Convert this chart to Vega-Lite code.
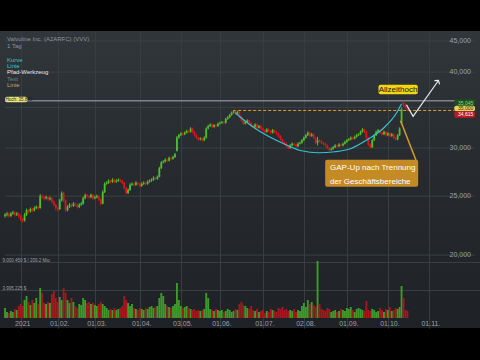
{
"$schema":"https://vega.github.io/schema/vega-lite/v6.json",
"width":480,"height":297,
"autosize":{"type":"none"},
"padding":{"top":31,"bottom":32,"left":0,"right":0},
"background":"#000000",
"config":{"view":{"stroke":null,"fill":{"gradient":"linear","x1":0,"y1":0,"x2":0,"y2":1,"stops":[{"offset":0,"color":"#30363a"},{"offset":0.45,"color":"#272b2f"},{"offset":1,"color":"#1e2125"}]}},"font":"Liberation Sans","text":{"font":"Liberation Sans"}},
"datasets":{
"candles":[
{"i":-8,"o":23.2,"h":23.45,"l":23.05,"c":23.3,"v":1.0},
{"i":-7,"o":23.3,"h":23.55,"l":23.15,"c":23.4,"v":0.6},
{"i":-6,"o":23.4,"h":23.5,"l":23.05,"c":23.2,"v":0.5},
{"i":-5,"o":23.2,"h":23.55,"l":23.1,"c":23.4,"v":0.7},
{"i":-4,"o":23.4,"h":23.65,"l":23.3,"c":23.5,"v":0.6},
{"i":-3,"o":23.5,"h":23.6,"l":23.15,"c":23.3,"v":0.9},
{"i":-2,"o":23.3,"h":23.55,"l":23.2,"c":23.4,"v":0.8},
{"i":-1,"o":23.4,"h":23.5,"l":23.05,"c":23.2,"v":1.2},
{"i":0,"o":23.2,"h":23.3,"l":22.75,"c":22.9,"v":1.4},
{"i":1,"o":22.9,"h":23.0,"l":22.6,"c":22.8,"v":1.2},
{"i":2,"o":22.8,"h":23.45,"l":22.7,"c":23.3,"v":1.8},
{"i":3,"o":23.3,"h":23.85,"l":23.2,"c":23.7,"v":2.2},
{"i":4,"o":23.7,"h":23.8,"l":23.45,"c":23.6,"v":1.6},
{"i":5,"o":23.6,"h":23.95,"l":23.5,"c":23.8,"v":1.3},
{"i":6,"o":23.8,"h":23.9,"l":23.55,"c":23.7,"v":1.8},
{"i":7,"o":23.7,"h":24.05,"l":23.6,"c":23.9,"v":1.5},
{"i":8,"o":23.9,"h":24.15,"l":23.8,"c":24.0,"v":2.0},
{"i":9,"o":24.0,"h":24.1,"l":23.75,"c":23.9,"v":1.4},
{"i":10,"o":23.9,"h":25.2,"l":23.85,"c":25.0,"v":3.0},
{"i":11,"o":25.0,"h":25.15,"l":24.75,"c":24.9,"v":2.5},
{"i":12,"o":24.9,"h":25.0,"l":24.6,"c":24.8,"v":1.5},
{"i":13,"o":24.8,"h":25.05,"l":24.7,"c":24.9,"v":1.4},
{"i":14,"o":24.9,"h":25.0,"l":24.55,"c":24.7,"v":1.6},
{"i":15,"o":24.7,"h":24.95,"l":24.6,"c":24.8,"v":1.5},
{"i":16,"o":24.8,"h":24.9,"l":24.35,"c":24.5,"v":2.4},
{"i":17,"o":24.5,"h":24.6,"l":24.05,"c":24.2,"v":2.7},
{"i":18,"o":24.2,"h":24.3,"l":23.7,"c":23.9,"v":2.0},
{"i":19,"o":23.9,"h":24.0,"l":23.6,"c":23.8,"v":1.6},
{"i":20,"o":23.8,"h":24.75,"l":23.75,"c":24.6,"v":2.1},
{"i":21,"o":24.6,"h":25.45,"l":24.5,"c":25.3,"v":1.8},
{"i":22,"o":25.3,"h":25.4,"l":24.45,"c":24.6,"v":3.0},
{"i":23,"o":24.6,"h":24.7,"l":23.55,"c":23.7,"v":2.5},
{"i":24,"o":23.7,"h":24.15,"l":23.6,"c":24.0,"v":1.8},
{"i":25,"o":24.0,"h":24.35,"l":23.9,"c":24.2,"v":1.5},
{"i":26,"o":24.2,"h":24.3,"l":23.95,"c":24.1,"v":2.0},
{"i":27,"o":24.1,"h":24.45,"l":24.0,"c":24.3,"v":1.6},
{"i":28,"o":24.3,"h":24.4,"l":24.05,"c":24.2,"v":1.2},
{"i":29,"o":24.2,"h":24.3,"l":23.85,"c":24.0,"v":1.0},
{"i":30,"o":24.0,"h":24.35,"l":23.9,"c":24.2,"v":1.4},
{"i":31,"o":24.2,"h":24.45,"l":24.1,"c":24.3,"v":1.3},
{"i":32,"o":24.3,"h":24.95,"l":24.2,"c":24.8,"v":2.0},
{"i":33,"o":24.8,"h":25.25,"l":24.7,"c":25.1,"v":1.8},
{"i":34,"o":25.1,"h":25.2,"l":24.85,"c":25.0,"v":1.5},
{"i":35,"o":25.0,"h":25.1,"l":24.75,"c":24.9,"v":1.6},
{"i":36,"o":24.9,"h":25.25,"l":24.8,"c":25.1,"v":1.4},
{"i":37,"o":25.1,"h":25.2,"l":24.65,"c":24.8,"v":1.5},
{"i":38,"o":24.8,"h":25.05,"l":24.7,"c":24.9,"v":1.3},
{"i":39,"o":24.9,"h":25.15,"l":24.8,"c":25.0,"v":1.2},
{"i":40,"o":25.0,"h":25.1,"l":24.55,"c":24.7,"v":1.4},
{"i":41,"o":24.7,"h":24.8,"l":24.15,"c":24.3,"v":1.6},
{"i":42,"o":24.3,"h":25.55,"l":24.25,"c":25.4,"v":1.4},
{"i":43,"o":25.4,"h":26.35,"l":25.3,"c":26.2,"v":1.2},
{"i":44,"o":26.2,"h":26.45,"l":26.1,"c":26.3,"v":1.0},
{"i":45,"o":26.3,"h":26.65,"l":26.2,"c":26.5,"v":0.8},
{"i":46,"o":26.5,"h":26.6,"l":26.25,"c":26.4,"v":0.9},
{"i":47,"o":26.4,"h":26.75,"l":26.3,"c":26.6,"v":0.8},
{"i":48,"o":26.6,"h":26.7,"l":26.25,"c":26.4,"v":1.0},
{"i":49,"o":26.4,"h":26.65,"l":26.3,"c":26.5,"v":0.8},
{"i":50,"o":26.5,"h":26.75,"l":26.4,"c":26.6,"v":0.9},
{"i":51,"o":26.6,"h":26.7,"l":26.35,"c":26.5,"v":1.0},
{"i":52,"o":26.5,"h":26.6,"l":26.15,"c":26.3,"v":1.2},
{"i":53,"o":26.3,"h":26.4,"l":25.65,"c":25.8,"v":2.2},
{"i":54,"o":25.8,"h":25.9,"l":25.15,"c":25.3,"v":1.8},
{"i":55,"o":25.3,"h":25.75,"l":25.2,"c":25.6,"v":1.5},
{"i":56,"o":25.6,"h":26.25,"l":25.5,"c":26.1,"v":1.2},
{"i":57,"o":26.1,"h":26.35,"l":26.0,"c":26.2,"v":1.4},
{"i":58,"o":26.2,"h":26.3,"l":25.95,"c":26.1,"v":1.0},
{"i":59,"o":26.1,"h":26.45,"l":26.0,"c":26.3,"v":0.9},
{"i":60,"o":26.3,"h":26.4,"l":26.05,"c":26.2,"v":0.8},
{"i":61,"o":26.2,"h":26.3,"l":25.85,"c":26.0,"v":1.0},
{"i":62,"o":26.0,"h":26.35,"l":25.9,"c":26.2,"v":0.9},
{"i":63,"o":26.2,"h":26.45,"l":26.1,"c":26.3,"v":0.8},
{"i":64,"o":26.3,"h":26.4,"l":26.05,"c":26.2,"v":1.0},
{"i":65,"o":26.2,"h":26.55,"l":26.1,"c":26.4,"v":0.9},
{"i":66,"o":26.4,"h":26.65,"l":26.3,"c":26.5,"v":1.1},
{"i":67,"o":26.5,"h":26.75,"l":26.4,"c":26.6,"v":1.2},
{"i":68,"o":26.6,"h":26.95,"l":26.5,"c":26.8,"v":1.0},
{"i":69,"o":26.8,"h":26.9,"l":26.55,"c":26.7,"v":1.1},
{"i":70,"o":26.7,"h":27.05,"l":26.6,"c":26.9,"v":1.2},
{"i":71,"o":26.9,"h":27.95,"l":26.85,"c":27.8,"v":2.0},
{"i":72,"o":27.8,"h":28.55,"l":27.7,"c":28.4,"v":2.5},
{"i":73,"o":28.4,"h":28.65,"l":28.3,"c":28.5,"v":2.2},
{"i":74,"o":28.5,"h":28.85,"l":28.4,"c":28.7,"v":1.4},
{"i":75,"o":28.7,"h":28.8,"l":28.45,"c":28.6,"v":1.2},
{"i":76,"o":28.6,"h":29.05,"l":28.5,"c":28.9,"v":1.1},
{"i":77,"o":28.9,"h":29.0,"l":28.65,"c":28.8,"v":1.0},
{"i":78,"o":28.8,"h":29.15,"l":28.7,"c":29.0,"v":1.2},
{"i":79,"o":29.0,"h":29.45,"l":28.9,"c":29.3,"v":1.4},
{"i":80,"o":29.7,"h":31.4,"l":29.6,"c":31.2,"v":3.5},
{"i":81,"o":31.2,"h":31.65,"l":31.1,"c":31.5,"v":1.8},
{"i":82,"o":31.5,"h":31.85,"l":31.4,"c":31.7,"v":1.2},
{"i":83,"o":31.7,"h":31.8,"l":31.45,"c":31.6,"v":1.0},
{"i":84,"o":31.6,"h":31.95,"l":31.5,"c":31.8,"v":1.1},
{"i":85,"o":31.8,"h":32.15,"l":31.7,"c":32.0,"v":1.2},
{"i":86,"o":32.0,"h":32.1,"l":31.75,"c":31.9,"v":1.0},
{"i":87,"o":31.9,"h":32.45,"l":31.8,"c":32.3,"v":0.9},
{"i":88,"o":32.3,"h":32.4,"l":31.75,"c":31.9,"v":0.8},
{"i":89,"o":31.9,"h":32.0,"l":31.35,"c":31.5,"v":0.9},
{"i":90,"o":31.5,"h":31.6,"l":31.05,"c":31.2,"v":0.7},
{"i":91,"o":31.2,"h":31.3,"l":30.85,"c":31.0,"v":0.8},
{"i":92,"o":31.0,"h":31.25,"l":30.9,"c":31.1,"v":0.7},
{"i":93,"o":31.1,"h":31.2,"l":30.75,"c":30.9,"v":0.8},
{"i":94,"o":30.9,"h":31.35,"l":30.8,"c":31.2,"v":0.9},
{"i":95,"o":31.2,"h":32.45,"l":31.1,"c":32.3,"v":2.5},
{"i":96,"o":32.3,"h":32.75,"l":32.2,"c":32.6,"v":2.0},
{"i":97,"o":32.6,"h":32.95,"l":32.5,"c":32.8,"v":0.9},
{"i":98,"o":32.8,"h":32.9,"l":32.35,"c":32.5,"v":0.8},
{"i":99,"o":32.5,"h":32.85,"l":32.4,"c":32.7,"v":0.7},
{"i":100,"o":32.7,"h":32.8,"l":32.45,"c":32.6,"v":0.9},
{"i":101,"o":32.6,"h":33.05,"l":32.5,"c":32.9,"v":0.8},
{"i":102,"o":32.9,"h":33.15,"l":32.8,"c":33.0,"v":0.7},
{"i":103,"o":33.0,"h":33.25,"l":32.9,"c":33.1,"v":0.8},
{"i":104,"o":33.1,"h":33.2,"l":32.85,"c":33.0,"v":0.6},
{"i":105,"o":33.0,"h":33.65,"l":32.9,"c":33.5,"v":0.7},
{"i":106,"o":33.5,"h":33.85,"l":33.4,"c":33.7,"v":0.9},
{"i":107,"o":33.7,"h":34.15,"l":33.6,"c":34.0,"v":0.8},
{"i":108,"o":34.0,"h":34.45,"l":33.9,"c":34.3,"v":0.6},
{"i":109,"o":34.3,"h":34.6,"l":34.2,"c":34.5,"v":0.7},
{"i":110,"o":34.5,"h":34.6,"l":34.05,"c":34.2,"v":0.9},
{"i":111,"o":34.2,"h":34.55,"l":34.1,"c":34.4,"v":0.8},
{"i":112,"o":34.4,"h":34.5,"l":33.65,"c":33.8,"v":1.4},
{"i":113,"o":33.8,"h":33.9,"l":33.15,"c":33.3,"v":1.6},
{"i":114,"o":33.3,"h":33.4,"l":32.75,"c":32.9,"v":1.3},
{"i":115,"o":32.9,"h":33.25,"l":32.8,"c":33.1,"v":1.2},
{"i":116,"o":33.1,"h":33.45,"l":33.0,"c":33.3,"v":1.0},
{"i":117,"o":33.3,"h":33.4,"l":32.85,"c":33.0,"v":0.9},
{"i":118,"o":33.0,"h":33.1,"l":32.55,"c":32.7,"v":1.2},
{"i":119,"o":32.7,"h":32.8,"l":32.35,"c":32.5,"v":0.8},
{"i":120,"o":32.5,"h":32.95,"l":32.4,"c":32.8,"v":0.7},
{"i":121,"o":32.8,"h":32.9,"l":32.25,"c":32.4,"v":0.9},
{"i":122,"o":32.4,"h":32.75,"l":32.3,"c":32.6,"v":0.6},
{"i":123,"o":32.6,"h":32.7,"l":32.15,"c":32.3,"v":0.7},
{"i":124,"o":32.3,"h":32.4,"l":31.95,"c":32.1,"v":0.8},
{"i":125,"o":32.1,"h":32.2,"l":31.75,"c":31.9,"v":0.5},
{"i":126,"o":31.9,"h":32.35,"l":31.8,"c":32.2,"v":0.7},
{"i":127,"o":32.2,"h":32.3,"l":31.85,"c":32.0,"v":0.6},
{"i":128,"o":32.0,"h":32.1,"l":31.65,"c":31.8,"v":0.9},
{"i":129,"o":31.8,"h":32.25,"l":31.7,"c":32.1,"v":0.8},
{"i":130,"o":32.1,"h":32.2,"l":31.75,"c":31.9,"v":0.7},
{"i":131,"o":31.9,"h":32.0,"l":31.55,"c":31.7,"v":0.6},
{"i":132,"o":31.7,"h":31.8,"l":31.25,"c":31.4,"v":1.0},
{"i":133,"o":31.4,"h":31.5,"l":30.85,"c":31.0,"v":0.9},
{"i":134,"o":31.0,"h":31.1,"l":30.55,"c":30.7,"v":1.1},
{"i":135,"o":30.7,"h":30.8,"l":30.35,"c":30.5,"v":0.8},
{"i":136,"o":30.5,"h":30.6,"l":30.05,"c":30.2,"v":0.9},
{"i":137,"o":30.2,"h":30.3,"l":29.85,"c":30.0,"v":0.7},
{"i":138,"o":30.0,"h":30.45,"l":29.9,"c":30.3,"v":0.8},
{"i":139,"o":30.3,"h":30.65,"l":30.2,"c":30.5,"v":0.7},
{"i":140,"o":30.5,"h":30.6,"l":30.25,"c":30.4,"v":0.9},
{"i":141,"o":30.4,"h":30.5,"l":30.05,"c":30.2,"v":0.6},
{"i":142,"o":30.2,"h":30.65,"l":30.1,"c":30.5,"v":0.8},
{"i":143,"o":30.5,"h":30.75,"l":30.4,"c":30.6,"v":0.7},
{"i":144,"o":30.6,"h":31.05,"l":30.5,"c":30.9,"v":1.2},
{"i":145,"o":30.9,"h":31.35,"l":30.8,"c":31.2,"v":1.5},
{"i":146,"o":31.2,"h":31.65,"l":31.1,"c":31.5,"v":1.1},
{"i":147,"o":31.5,"h":31.95,"l":31.4,"c":31.8,"v":1.8},
{"i":148,"o":31.8,"h":31.9,"l":31.25,"c":31.4,"v":1.4},
{"i":149,"o":31.4,"h":31.75,"l":31.3,"c":31.6,"v":1.6},
{"i":150,"o":31.6,"h":31.7,"l":31.05,"c":31.2,"v":1.3},
{"i":151,"o":31.2,"h":31.3,"l":30.45,"c":30.6,"v":1.1},
{"i":152,"o":30.6,"h":31.3,"l":30.3,"c":30.9,"v":5.7},
{"i":153,"o":30.9,"h":31.0,"l":30.65,"c":30.8,"v":1.4},
{"i":154,"o":30.8,"h":30.9,"l":30.45,"c":30.6,"v":0.9},
{"i":155,"o":30.6,"h":30.7,"l":30.35,"c":30.5,"v":0.8},
{"i":156,"o":30.5,"h":30.6,"l":30.15,"c":30.3,"v":0.7},
{"i":157,"o":30.3,"h":30.4,"l":29.85,"c":30.0,"v":1.0},
{"i":158,"o":30.0,"h":30.1,"l":29.65,"c":29.8,"v":0.9},
{"i":159,"o":29.8,"h":30.05,"l":29.7,"c":29.9,"v":0.6},
{"i":160,"o":29.9,"h":30.25,"l":29.8,"c":30.1,"v":0.7},
{"i":161,"o":30.1,"h":30.45,"l":30.0,"c":30.3,"v":0.8},
{"i":162,"o":30.3,"h":30.4,"l":30.05,"c":30.2,"v":0.6},
{"i":163,"o":30.2,"h":30.55,"l":30.1,"c":30.4,"v":0.7},
{"i":164,"o":30.4,"h":30.5,"l":30.15,"c":30.3,"v":0.9},
{"i":165,"o":30.3,"h":30.65,"l":30.2,"c":30.5,"v":0.8},
{"i":166,"o":30.5,"h":30.85,"l":30.4,"c":30.7,"v":0.7},
{"i":167,"o":30.7,"h":31.05,"l":30.6,"c":30.9,"v":1.0},
{"i":168,"o":30.9,"h":31.15,"l":30.8,"c":31.0,"v":0.9},
{"i":169,"o":31.0,"h":31.35,"l":30.9,"c":31.2,"v":1.1},
{"i":170,"o":31.2,"h":31.3,"l":30.95,"c":31.1,"v":0.8},
{"i":171,"o":31.1,"h":31.45,"l":31.0,"c":31.3,"v":0.6},
{"i":172,"o":31.3,"h":31.65,"l":31.2,"c":31.5,"v":0.9},
{"i":173,"o":31.5,"h":31.75,"l":31.4,"c":31.6,"v":1.0},
{"i":174,"o":31.6,"h":32.05,"l":31.5,"c":31.9,"v":0.9},
{"i":175,"o":31.9,"h":32.35,"l":31.8,"c":32.2,"v":0.8},
{"i":176,"o":32.2,"h":32.3,"l":31.75,"c":31.9,"v":0.7},
{"i":177,"o":31.9,"h":32.0,"l":31.05,"c":31.2,"v":1.7},
{"i":178,"o":31.2,"h":31.3,"l":30.25,"c":30.4,"v":0.8},
{"i":179,"o":30.4,"h":30.5,"l":29.95,"c":30.1,"v":0.7},
{"i":180,"o":30.1,"h":31.05,"l":30.0,"c":30.9,"v":0.9},
{"i":181,"o":30.9,"h":31.65,"l":30.8,"c":31.5,"v":0.8},
{"i":182,"o":31.5,"h":32.05,"l":31.4,"c":31.9,"v":0.6},
{"i":183,"o":31.9,"h":32.25,"l":31.8,"c":32.1,"v":0.7},
{"i":184,"o":32.1,"h":32.2,"l":31.65,"c":31.8,"v":1.0},
{"i":185,"o":31.8,"h":31.9,"l":31.45,"c":31.6,"v":0.8},
{"i":186,"o":31.6,"h":32.05,"l":31.5,"c":31.9,"v":0.6},
{"i":187,"o":31.9,"h":32.0,"l":31.35,"c":31.5,"v":0.9},
{"i":188,"o":31.5,"h":31.85,"l":31.4,"c":31.7,"v":0.8},
{"i":189,"o":31.7,"h":31.8,"l":31.25,"c":31.4,"v":1.1},
{"i":190,"o":31.4,"h":31.75,"l":31.3,"c":31.6,"v":0.7},
{"i":191,"o":31.6,"h":31.7,"l":31.05,"c":31.2,"v":0.8},
{"i":192,"o":31.2,"h":31.3,"l":30.85,"c":31.0,"v":1.0},
{"i":193,"o":31.0,"h":31.65,"l":30.9,"c":31.5,"v":0.9},
{"i":194,"o":31.5,"h":32.45,"l":31.4,"c":32.3,"v":1.1},
{"i":195,"o":32.9,"h":34.95,"l":32.8,"c":34.8,"v":3.2},
{"i":196,"o":35.7,"h":35.9,"l":35.1,"c":35.3,"v":2.0},
{"i":197,"o":35.3,"h":35.5,"l":34.85,"c":35.0,"v":0.8},
{"i":198,"o":35.1,"h":35.2,"l":34.5,"c":34.6,"v":0.7}
],
"pricegrid":[
{"i":-8.02,"i2":232.6,"p":20,"lab":"20,000"},
{"i":-8.02,"i2":232.6,"p":25,"lab":"25,000"},
{"i":-8.02,"i2":232.6,"p":30,"lab":"30,000"},
{"i":-8.02,"i2":232.6,"p":35,"lab":"35,000"},
{"i":-8.02,"i2":232.6,"p":40,"lab":"40,000"},
{"i":-8.02,"i2":232.6,"p":45,"lab":"45,000"}
],
"curve":[
{"i":109.8,"p":34.29},{"i":118.8,"p":32.52},{"i":127.3,"p":31.31},{"i":135.8,"p":30.38},{"i":143.9,"p":29.69},{"i":152.4,"p":29.47},{"i":160.9,"p":29.58},{"i":168.9,"p":29.92},{"i":177.4,"p":30.96},{"i":186,"p":32.4},{"i":192.5,"p":34.29},{"i":195,"p":35.48}
],
"path":[{"i":197.5,"p":35.35},{"i":200.9,"p":33.82},{"i":213.9,"p":38.75}],
"tip":[{"i":213.9,"p":38.75}],
"pointer":[{"i":194.5,"p":33.27},{"i":202.5,"p":28.59}],
"levels":[{"i":-8.02,"i2":232.6,"p":35.89,"kind":"high"},{"i":108.8,"i2":222,"p":34.59,"kind":"prev"}],
"boxes":[
{"i":155.9,"i2":203.5,"p":28.7,"p2":25.91,"kind":"callout"},
{"i":183.2,"i2":203.3,"p":38.13,"p2":36.78,"kind":"ath"},
{"i":-8.02,"i2":3.5,"p":36.43,"p2":35.68,"kind":"hoch"},
{"i":222,"i2":232.6,"p":36.09,"p2":35.21,"kind":"bid"},
{"i":222,"i2":232.6,"p":35.21,"p2":34.49,"kind":"mid"},
{"i":222,"i2":232.6,"p":34.49,"p2":33.65,"kind":"ask"}
],
"notes":[
{"i":-7,"p":45.39,"t":"Valvoline Inc. (A2ARFC) (VVV)","kind":"info"},
{"i":-7,"p":44.2,"t":"1 Tag","kind":"info"},
{"i":-7,"p":41.92,"t":"Kurve","kind":"cyan"},
{"i":-7,"p":40.97,"t":"Linie","kind":"cyan"},
{"i":-7,"p":39.95,"t":"Pfad-Werkzeug","kind":"white"},
{"i":-7,"p":39.01,"t":"Text","kind":"gray"},
{"i":-7,"p":38.13,"t":"Linie","kind":"orange"}
],
"callout":[
{"i":158.4,"p":27.84,"t":"GAP-Up nach Trennung"},
{"i":158.4,"p":26.4,"t":"der Geschäftsbereiche"}
],
"tags":[
{"i":193.2,"p":37.41,"t":"Allzeithoch","kind":"ath"},
{"i":-7.8,"p":36.05,"t":"Hoch: 35,895","kind":"hoch"},
{"i":231.7,"p":35.64,"t":"35,045","kind":"bid"},
{"i":231.7,"p":34.85,"t":"35,000","kind":"mid"},
{"i":231.7,"p":34.07,"t":"34,615","kind":"ask"}
]
},
"encoding":{"x":{"field":"i","type":"quantitative","scale":{"domain":[-8.02,232.6],"nice":false,"zero":false},
"axis":{"values":[0,19,38,61,82,102,124,145,167,188,209],"labelExpr":"['2021','01.02.','01.03.','01.04.','03.05.','01.06.','01.07.','02.08.','01.09.','01.10.','01.11.'][indexof([0,19,38,61,82,102,124,145,167,188,209], datum.value)]","title":null,"grid":true,"gridColor":"#383d42","domain":false,"ticks":false,"tickSize":0,"labelColor":"#9aa0a6","labelFontSize":7,"labelPadding":-5,"labelBaseline":"middle","labelOffset":1.5,"labelFlush":false}}},
"layer":[
 {"data":{"name":"pricegrid"},
  "mark":{"type":"rule","color":"#3b4045","strokeWidth":1},
  "encoding":{"x2":{"field":"i2"},"y":{"field":"p","type":"quantitative","scale":{"type":"log","domain":[15.172,46.74],"nice":false},"axis":null}}},
 {"data":{"name":"candles"},
  "mark":{"type":"bar","size":1.9},
  "encoding":{
   "y":{"field":"v","type":"quantitative","scale":{"domain":[-1.0,28.7],"nice":false,"zero":false},
    "axis":{"orient":"left","values":[2.8,5.6],"labelExpr":"datum.value > 4 ? '9.000.450 $ / 209.2 Mio' : '3.995.225 $'","title":null,"grid":true,"gridColor":"#3a3f44","domain":false,"ticks":false,"tickSize":0,"labelPadding":-2,"labelAlign":"left","labelBaseline":"bottom","labelColor":"#9aa0a6","labelFontSize":4.5}},
   "y2":{"datum":0},
   "color":{"condition":{"test":"datum.c >= datum.o","value":"#3f9a2a"},"value":"#a5181d"}
  }},
 {"data":{"name":"pricegrid"},"transform":[{"filter":"datum.p != 35"}],
  "mark":{"type":"text","align":"right","baseline":"middle","fontSize":7,"color":"#9aa0a6","dx":-4},
  "encoding":{"x":{"field":"i2","type":"quantitative"},"y":{"field":"p","type":"quantitative","scale":{"type":"log","domain":[15.172,46.74],"nice":false},"axis":null},"text":{"field":"lab"}}},
 {"data":{"name":"levels"},"transform":[{"filter":"datum.kind == 'high'"}],
  "mark":{"type":"rule","color":"#7d8388","strokeWidth":1.5},
  "encoding":{"x2":{"field":"i2"},"y":{"field":"p","type":"quantitative","scale":{"type":"log","domain":[15.172,46.74],"nice":false},"axis":null}}},
 {"data":{"name":"levels"},"transform":[{"filter":"datum.kind == 'prev'"}],
  "mark":{"type":"rule","color":"#e59a2e","strokeWidth":1,"strokeDash":[3,2]},
  "encoding":{"x2":{"field":"i2"},"y":{"field":"p","type":"quantitative","scale":{"type":"log","domain":[15.172,46.74],"nice":false},"axis":null}}},
 {"data":{"name":"candles"},
  "mark":{"type":"rule","strokeWidth":1},
  "encoding":{"y":{"field":"l","type":"quantitative","scale":{"type":"log","domain":[15.172,46.74],"nice":false},"axis":null},"y2":{"field":"h"},
   "color":{"condition":{"test":"datum.c >= datum.o","value":"#4cc02c"},"value":"#d8161e"}}},
 {"data":{"name":"candles"},
  "mark":{"type":"bar","size":1.8},
  "encoding":{"y":{"field":"o","type":"quantitative","scale":{"type":"log","domain":[15.172,46.74],"nice":false},"axis":null},"y2":{"field":"c"},
   "color":{"condition":{"test":"datum.c >= datum.o","value":"#4cc02c"},"value":"#d8161e"}}},
 {"data":{"name":"curve"},
  "mark":{"type":"line","color":"#2ec6d2","strokeWidth":1.2,"interpolate":"monotone"},
  "encoding":{"y":{"field":"p","type":"quantitative","scale":{"type":"log","domain":[15.172,46.74],"nice":false},"axis":null}}},
 {"data":{"name":"path"},
  "mark":{"type":"line","color":"#e8e8e8","strokeWidth":1.2},
  "encoding":{"y":{"field":"p","type":"quantitative","scale":{"type":"log","domain":[15.172,46.74],"nice":false},"axis":null}}},
 {"data":{"name":"tip"},
  "mark":{"type":"point","shape":"M-1,0.8L0,0L1,0.8","filled":false,"stroke":"#e8e8e8","strokeWidth":1.2,"size":40,"angle":36,"opacity":1},
  "encoding":{"y":{"field":"p","type":"quantitative","scale":{"type":"log","domain":[15.172,46.74],"nice":false},"axis":null}}},
 {"data":{"name":"pointer"},
  "mark":{"type":"line","color":"#d89a2a","strokeWidth":1.5},
  "encoding":{"y":{"field":"p","type":"quantitative","scale":{"type":"log","domain":[15.172,46.74],"nice":false},"axis":null}}},
 {"data":{"name":"boxes"},
  "mark":{"type":"rect","cornerRadius":2},
  "encoding":{"x2":{"field":"i2"},"y":{"field":"p","type":"quantitative","scale":{"type":"log","domain":[15.172,46.74],"nice":false},"axis":null},"y2":{"field":"p2"},
   "color":{"field":"kind","type":"nominal","scale":{"domain":["callout","ath","hoch","bid","mid","ask"],"range":["#c48a24","#f2d60f","#e8e27a","#1f4d22","#e9d25a","#c0181f"]},"legend":null}}},
 {"data":{"name":"notes"},
  "mark":{"type":"text","align":"left","baseline":"middle","fontSize":6},
  "encoding":{"y":{"field":"p","type":"quantitative","scale":{"type":"log","domain":[15.172,46.74],"nice":false},"axis":null},"text":{"field":"t"},
   "color":{"field":"kind","type":"nominal","scale":{"domain":["info","cyan","white","gray","orange"],"range":["#8d949a","#34c8c8","#e6e6e6","#7a7f84","#c9a46a"]},"legend":null}}},
 {"data":{"name":"callout"},
  "mark":{"type":"text","align":"left","baseline":"middle","fontSize":8,"color":"#ffffff"},
  "encoding":{"y":{"field":"p","type":"quantitative","scale":{"type":"log","domain":[15.172,46.74],"nice":false},"axis":null},"text":{"field":"t"}}},
 {"data":{"name":"tags"},"transform":[{"filter":"datum.kind == 'ath'"}],
  "mark":{"type":"text","align":"center","baseline":"middle","fontSize":8,"color":"#111111"},
  "encoding":{"y":{"field":"p","type":"quantitative","scale":{"type":"log","domain":[15.172,46.74],"nice":false},"axis":null},"text":{"field":"t"}}},
 {"data":{"name":"tags"},"transform":[{"filter":"datum.kind == 'hoch'"}],
  "mark":{"type":"text","align":"left","baseline":"middle","fontSize":4.5,"color":"#222222"},
  "encoding":{"y":{"field":"p","type":"quantitative","scale":{"type":"log","domain":[15.172,46.74],"nice":false},"axis":null},"text":{"field":"t"}}},
 {"data":{"name":"tags"},"transform":[{"filter":"datum.kind == 'bid' || datum.kind == 'mid' || datum.kind == 'ask'"}],
  "mark":{"type":"text","align":"right","baseline":"middle","fontSize":5},
  "encoding":{"y":{"field":"p","type":"quantitative","scale":{"type":"log","domain":[15.172,46.74],"nice":false},"axis":null},"text":{"field":"t"},
   "color":{"field":"kind","type":"nominal","scale":{"domain":["bid","mid","ask"],"range":["#7fe07a","#2a2a10","#ffffff"]},"legend":null}}}
],
"resolve":{"scale":{"y":"independent","color":"independent"}}
}
